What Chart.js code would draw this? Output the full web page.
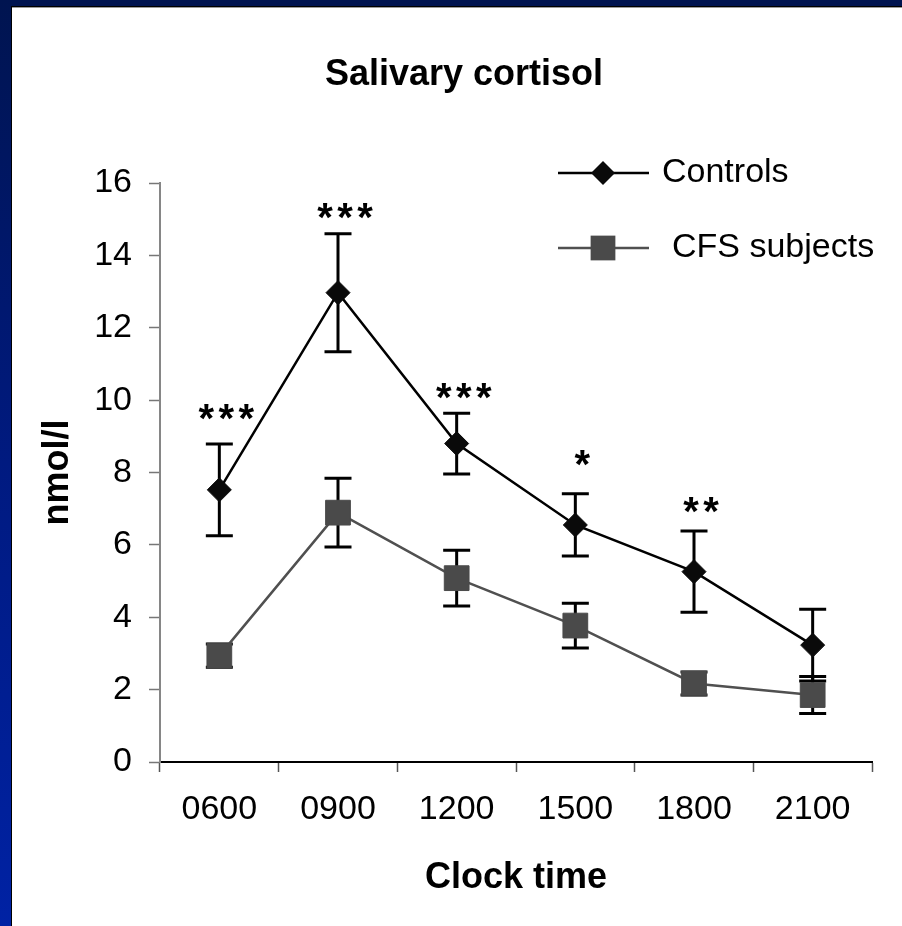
<!DOCTYPE html>
<html>
<head>
<meta charset="utf-8">
<script src="https://cdn.jsdelivr.net/npm/chart.js@4/dist/chart.umd.min.js"></script>
<style>
  html, body { margin: 0; padding: 0; background: #fff; }
  #frame { position: relative; width: 902px; height: 926px; background: #fff; overflow: hidden; }
  #bandTop { position: absolute; left: 0; top: 0; width: 902px; height: 6px; background: #001450; }
  #lineTop { position: absolute; left: 0; top: 6px; width: 902px; height: 1px; background: #000; }
  #lineTop2 { position: absolute; left: 0; top: 7px; width: 902px; height: 1px; background: #9a9a9a; }
  #bandLeft { position: absolute; left: 0; top: 0; width: 11px; height: 926px;
              background: linear-gradient(to bottom, #001450 0%, #001a80 50%, #0022a4 100%); }
  #lineLeft { position: absolute; left: 11px; top: 6px; width: 1px; height: 920px; background: #000; }
  canvas { position: absolute; left: 0; top: 0; }
</style>
</head>
<body>
<div id="frame">
  <div id="bandTop"></div>
  <div id="lineTop"></div>
  <div id="lineTop2"></div>
  <div id="bandLeft"></div>
  <div id="lineLeft"></div>
  <canvas id="chart" width="902" height="926"></canvas>
</div>
<script>
// Sampling times (clock time)
const categories = ['0600', '0900', '1200', '1500', '1800', '2100'];

// Salivary cortisol, nmol/l: mean and standard error
const controlsMean = [7.52, 12.97, 8.80, 6.55, 5.26, 3.23];
const controlsSem  = [1.27, 1.63, 0.84, 0.86, 1.12, 0.99];
const cfsMean      = [2.94, 6.89, 5.08, 3.77, 2.17, 1.85];
const cfsSem       = [0.32, 0.95, 0.77, 0.62, 0.32, 0.51];

// Significance of the group difference at each time
const sigMarks = ['***', '***', '***', '*', '**', ''];

// Y axis ticks
const yTicks = [0, 2, 4, 6, 8, 10, 12, 14, 16];

const chartTitle = 'Salivary cortisol';

const FONT = '"Liberation Sans", Arial, Helvetica, sans-serif';

// Chart heading, centred over the slide body
const heading = {
  id: 'heading',
  afterDraw(chart) {
    const { ctx } = chart;
    ctx.save();
    ctx.fillStyle = '#000';
    ctx.font = 'bold 36px ' + FONT;
    ctx.textAlign = 'center';
    ctx.textBaseline = 'alphabetic';
    ctx.fillText(chartTitle, 464, 85);
    ctx.restore();
  }
};

// Vertical error bars with caps, drawn underneath the lines and markers
const errorBars = {
  id: 'errorBars',
  beforeDatasetsDraw(chart) {
    const { ctx, scales: { x, y } } = chart;
    ctx.save();
    ctx.strokeStyle = '#000';
    ctx.lineWidth = 3;
    chart.data.datasets.forEach(ds => {
      ds.data.forEach((v, i) => {
        const e = ds.errors[i];
        const px = x.getPixelForValue(i);
        const top = y.getPixelForValue(v + e);
        const bot = y.getPixelForValue(v - e);
        const cap = 13.5;
        ctx.beginPath();
        ctx.moveTo(px, top); ctx.lineTo(px, bot);
        ctx.moveTo(px - cap, top); ctx.lineTo(px + cap, top);
        ctx.moveTo(px - cap, bot); ctx.lineTo(px + cap, bot);
        ctx.stroke();
      });
    });
    ctx.restore();
  }
};

// Asterisks above the control group's upper error bar
const sigLabels = {
  id: 'sigLabels',
  afterDatasetsDraw(chart) {
    const { ctx, scales: { x, y } } = chart;
    // gap (px) between each bar cap and its asterisks
    const gaps = [35, 26, 25, 39, 29, 0];
    ctx.save();
    ctx.fillStyle = '#000';
    ctx.font = 'bold 40px ' + FONT;
    ctx.textAlign = 'center';
    ctx.textBaseline = 'alphabetic';
    const pitch = 20;
    sigMarks.forEach((m, i) => {
      if (!m) return;
      const cx = x.getPixelForValue(i) + 7;
      const capY = y.getPixelForValue(controlsMean[i] + controlsSem[i]);
      const centerY = capY - gaps[i];
      const n = m.length;
      for (let k = 0; k < n; k++) {
        const ax = cx + (k - (n - 1) / 2) * pitch;
        ctx.fillText('*', ax, centerY + 23);
      }
    });
    ctx.restore();
  }
};

function drawMarker(ctx, style, cx, cy, r, fill) {
  ctx.fillStyle = fill;
  ctx.beginPath();
  if (style === 'rectRot') {
    ctx.moveTo(cx - r, cy); ctx.lineTo(cx, cy - r);
    ctx.lineTo(cx + r, cy); ctx.lineTo(cx, cy + r);
    ctx.closePath();
  } else {
    const h = r * Math.SQRT1_2;
    ctx.rect(cx - h, cy - h, 2 * h, 2 * h);
  }
  ctx.fill();
}

// Legend in the upper right of the plot
const sideLegend = {
  id: 'sideLegend',
  afterDraw(chart) {
    const { ctx } = chart;
    const rows = [
      { y: 173, textX: 662 },
      { y: 248, textX: 672 }
    ];
    ctx.save();
    chart.data.datasets.forEach((ds, i) => {
      const r = rows[i];
      ctx.strokeStyle = ds.borderColor;
      ctx.lineWidth = ds.borderWidth;
      ctx.beginPath();
      ctx.moveTo(558, r.y); ctx.lineTo(649, r.y);
      ctx.stroke();
      drawMarker(ctx, ds.pointStyle, 603, r.y, ds.pointRadius, ds.pointBackgroundColor);
      ctx.fillStyle = '#000';
      ctx.font = '34px ' + FONT;
      ctx.textAlign = 'left';
      ctx.textBaseline = 'middle';
      ctx.fillText(ds.label, r.textX, r.y);
    });
    ctx.restore();
  }
};

new Chart(document.getElementById('chart'), {
  type: 'line',
  data: {
    labels: categories,
    datasets: [
      {
        label: 'Controls',
        data: controlsMean,
        errors: controlsSem,
        borderColor: '#000',
        borderWidth: 2.5,
        pointStyle: 'rectRot',
        pointRadius: 12,
        pointBackgroundColor: '#0a0a0a',
        pointBorderColor: '#0a0a0a',
        pointBorderWidth: 1,
        tension: 0
      },
      {
        label: 'CFS subjects',
        data: cfsMean,
        errors: cfsSem,
        borderColor: '#505050',
        borderWidth: 2.5,
        pointStyle: 'rect',
        pointRadius: 17.5,
        pointBackgroundColor: '#4a4a4a',
        pointBorderColor: '#4a4a4a',
        pointBorderWidth: 1,
        tension: 0
      }
    ]
  },
  options: {
    responsive: false,
    animation: false,
    layout: { padding: { left: 26, right: 30, top: 183, bottom: 0 } },
    plugins: {
      legend: { display: false },
      tooltip: { enabled: false },
      title: { display: false }
    },
    scales: {
      x: {
        type: 'category',
        offset: true,
        grid: {
          offset: true,
          drawOnChartArea: false,
          drawTicks: true,
          tickLength: 10,
          tickColor: '#555',
          tickWidth: 1.5
        },
        border: { display: true, color: '#000', width: 2 },
        ticks: {
          color: '#000',
          padding: 17,
          maxRotation: 0,
          font: { family: FONT, size: 34 }
        },
        title: {
          display: true,
          text: 'Clock time',
          color: '#000',
          font: { family: FONT, size: 36, weight: 'bold', lineHeight: 1.2 },
          padding: { top: 0, bottom: 26 }
        },
        afterFit(scale) { scale.height = 164; }
      },
      y: {
        min: 0,
        max: 16,
        grid: {
          drawOnChartArea: false,
          drawTicks: true,
          tickLength: 11,
          tickColor: '#777',
          tickWidth: 1.5
        },
        border: { display: true, color: '#868686', width: 2 },
        afterBuildTicks(scale) { scale.ticks = yTicks.map(v => ({ value: v })); },
        ticks: {
          color: '#000',
          padding: 17,
          font: { family: FONT, size: 34 }
        },
        title: {
          display: true,
          text: 'nmol/l',
          color: '#000',
          font: { family: FONT, size: 36, weight: 'bold', lineHeight: 1.2 },
          padding: { top: 10, bottom: 0 }
        },
        afterFit(scale) { scale.width = 134; }
      }
    }
  },
  plugins: [errorBars, sigLabels, sideLegend, heading]
});
</script>
</body>
</html>
